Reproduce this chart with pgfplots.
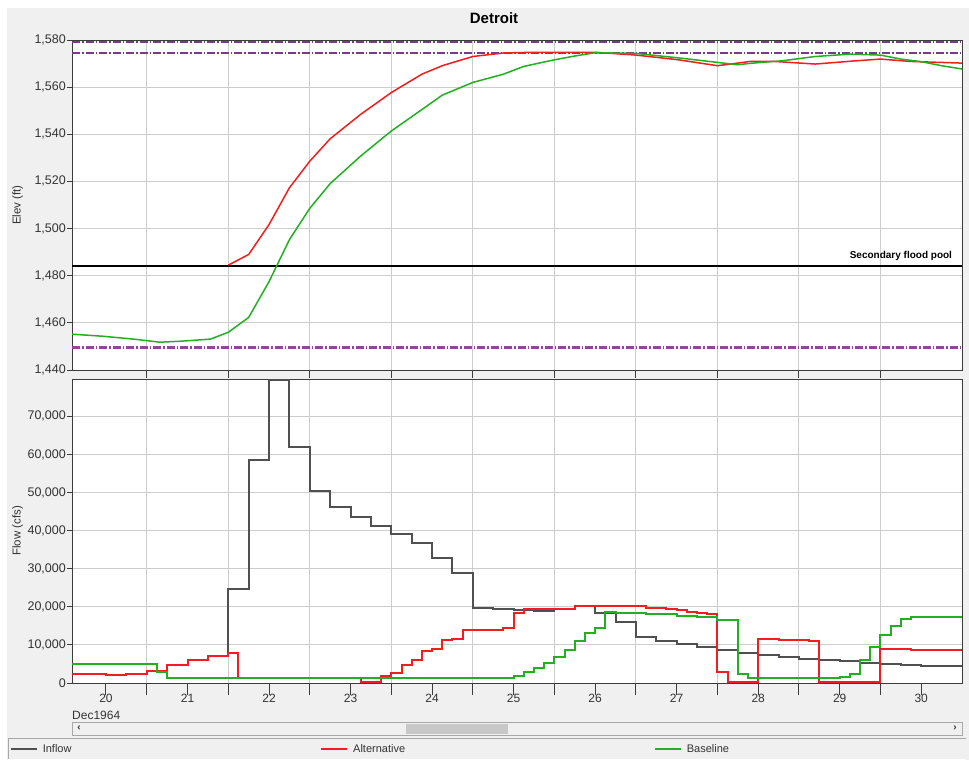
\documentclass[border=0pt]{standalone}
\usepackage{pgfplots}
\pgfplotsset{compat=1.18}
\usepackage{fontspec}
\setmainfont{Liberation Sans}
\definecolor{bg}{HTML}{F0F0F0}
\definecolor{gridc}{HTML}{CDCDCD}
\definecolor{axc}{HTML}{3C3C3C}
\definecolor{tickc}{HTML}{333333}
\definecolor{purp}{HTML}{7A3A8A}
\definecolor{purpl}{HTML}{8E4896}
\definecolor{altc}{HTML}{F01E1E}
\definecolor{basec}{HTML}{20B020}
\definecolor{inflc}{HTML}{505050}
\definecolor{sbar}{HTML}{A8A8A8}
\definecolor{thumb}{HTML}{C8C8C8}
\pgfplotsset{
  common/.style={
    scale only axis, width=890pt,
    xmin=20.083, xmax=31,
    axis background/.style={fill=white},
    axis line style={axc, line width=1pt},
    grid=major, grid style={gridc, line width=1pt},
    tick align=outside, major tick length=5pt,
    tick style={axc, line width=1pt},
    xtick pos=lower, ytick pos=left,
    xtick={21,...,30}, xticklabels={{},{},{},{},{},{},{},{},{},{}},
    yticklabel style={font=\fontsize{12.5}{14}\selectfont, text=tickc, inner sep=1pt},
    /pgf/number format/assume math mode=true,
    /pgf/number format/1000 sep={,},
    ylabel style={font=\fontsize{11.5}{13}\selectfont, text=tickc, at={(axis description cs:-0.061,0.5)}, anchor=center},
  }
}
\begin{document}
\begin{tikzpicture}
\begin{scope}[x=1pt,y=-1pt]
\fill[white] (0,0) rectangle (969,760);
\fill[bg] (7,8) rectangle (969,760);
\node[font=\fontsize{15}{17}\selectfont\bfseries] at (494,18) {Detroit};
\end{scope}

% ---------- Elevation panel ----------
\begin{axis}[common,
  at={(72pt,-370pt)}, anchor=south west, height=330pt,
  ymin=1440, ymax=1580, ytick={1440,1460,...,1580},
  xtick style={/pgfplots/major tick length=8pt},
  ylabel={Elev (ft)},
]
\addplot[purp, line width=2pt, dash pattern=on 8pt off 2pt on 1.5pt off 2pt] coordinates {(20.083,1579.1) (31,1579.1)};
\addplot[purp, line width=2pt, dash pattern=on 8pt off 2pt on 1.5pt off 2pt] coordinates {(20.083,1574.3) (31,1574.3)};
\addplot[purpl, line width=3.2pt, dash pattern=on 8pt off 2pt on 1.5pt off 2pt] coordinates {(20.083,1449.5) (31,1449.5)};
\addplot[black, line width=2pt] coordinates {(20.083,1484.3) (31,1484.3)}
  node[pos=1, anchor=base east, xshift=-9pt, yshift=7pt, font=\fontsize{10}{12}\selectfont\bfseries, inner sep=0pt] {Secondary flood pool};
% Alternative elevation
\addplot[altc, line width=1.5pt] coordinates {
(22.0,1484.5) (22.25,1489) (22.5,1501.7) (22.75,1517.3) (23.0,1528.6) (23.25,1538.1)
(23.625,1548.5) (24.0,1557.7) (24.375,1565.5) (24.625,1569.1) (25.0,1573) (25.375,1574.5)
(25.75,1574.8) (26.5,1574.8) (27.0,1573.6) (27.5,1571.7) (28.0,1569.1) (28.16,1569.8)
(28.4,1570.9) (28.7,1570.9) (29.2,1569.8) (29.67,1571.1) (30.0,1571.9) (30.375,1570.9) (31.0,1570.2)};
% Baseline elevation
\addplot[basec, line width=1.5pt] coordinates {
(20.083,1455.2) (20.47,1454.3) (20.84,1453.1) (21.16,1451.8) (21.41,1452.2) (21.78,1453.1)
(22.0,1456.0) (22.25,1462.3) (22.5,1477.5) (22.75,1495.3) (23.0,1508.6) (23.25,1519.1)
(23.625,1530.8) (24.0,1541.4) (24.375,1550.5) (24.625,1556.6) (25.0,1562) (25.375,1565.5)
(25.625,1568.8) (26.0,1571.6) (26.25,1573.2) (26.5,1574.6) (27.0,1574.3) (27.5,1572.5)
(27.875,1571) (28.25,1569.5) (28.4,1570.1) (28.8,1571.2) (29.2,1573) (29.625,1574)
(30.0,1573.6) (30.25,1571.9) (30.5,1570.8) (30.75,1569.1) (31.0,1567.7)};
\end{axis}

% ---------- Flow panel ----------
\begin{axis}[common,
  at={(72pt,-683pt)}, anchor=south west, height=304pt,
  ymin=0, ymax=79800, ytick={0,10000,...,70000},
  clip=false,
  scaled y ticks=false, yticklabel style={/pgf/number format/fixed},
  xtick style={/pgfplots/major tick length=12pt},
  extra x ticks={20.5,21.5,...,30.5},
  extra x tick labels={20,21,22,23,24,25,26,27,28,29,30},
  extra x tick style={grid=none, major tick length=0pt,
     xticklabel style={font=\fontsize{12}{14}\selectfont, text=tickc, yshift=-8pt}},
  ylabel={Flow (cfs)},
  legend columns=3,
  legend cell align=left,
  legend style={draw=none, fill=none, at={(axis description cs:-0.0697,-0.2171)}, anchor=west,
     font=\fontsize{11}{13}\selectfont, text=tickc, inner sep=0pt,
     /tikz/every even column/.append style={column sep=247pt}},
  legend image code/.code={\draw[#1, line width=1.3pt] (0pt,0pt) -- (26pt,0pt); \path (29pt,0pt);},
]
% Inflow
\addplot[inflc, line width=2pt, const plot] coordinates {
(22.0,7950) (22.0,24700) (22.25,58650) (22.5,79600) (22.75,61950) (23.0,50400) (23.25,46200)
(23.5,43600) (23.75,41200) (24.0,39000) (24.25,36800) (24.5,32900) (24.75,28800)
(25.0,19600) (25.25,19300) (25.5,19100) (25.75,18950) (26.0,19300) (26.25,20100)
(26.5,18500) (26.75,15900) (27.0,12060) (27.25,11010) (27.5,10140) (27.75,9520)
(28.0,8650) (28.25,7870) (28.5,7340) (28.75,6900) (29.0,6290) (29.25,6030)
(29.5,5690) (29.75,5320) (30.0,4980) (30.25,4720) (30.5,4460) (30.75,4370) (31.0,4370)};
\addlegendentry{Inflow}
% Alternative outflow
\addplot[altc, line width=2pt, const plot] coordinates {
(20.083,2280) (20.5,2100) (20.75,2280) (21.0,3230) (21.25,4640) (21.5,6120) (21.75,7160)
(22.0,7950) (22.125,1230) (23.625,340) (23.875,1750) (24.0,2700) (24.125,4720) (24.25,5950)
(24.375,8470) (24.5,8830) (24.625,11190) (24.75,11540) (24.875,13900) (25.375,14340)
(25.5,18430) (25.625,19320) (26.25,20190) (27.125,19750) (27.375,19320) (27.5,19140)
(27.625,18700) (27.75,18430) (27.875,18090) (28.0,2970) (28.125,150) (28.5,11540)
(28.75,11270) (29.125,11100) (29.25,150) (29.875,300) (30.0,8830) (30.375,8650) (31.0,8650)};
\addlegendentry{Alternative}
% Baseline outflow
\addplot[basec, line width=2pt, const plot] coordinates {
(20.083,5070) (21.125,2970) (21.25,1230) (25.5,1840) (25.625,2970) (25.75,4010)
(25.875,5160) (26.0,6740) (26.125,8650) (26.25,11010) (26.375,13190) (26.5,14500)
(26.625,18540) (26.75,18250) (27.125,18090) (27.5,17700) (27.75,17300) (28.0,16520)
(28.25,2360) (28.375,1230) (29.5,1650) (29.625,2360) (29.75,6030) (29.875,9520)
(30.0,12590) (30.125,14950) (30.25,16700) (30.375,17220) (31.0,17220)};
\addlegendentry{Baseline}
\end{axis}

\begin{scope}[x=1pt,y=-1pt]
\node[anchor=base west, font=\fontsize{12}{14}\selectfont, text=tickc, inner sep=0pt] at (72,719) {Dec1964};
\draw[sbar, fill=bg] (72,722) rectangle (962,735);
\fill[thumb] (406,723.5) rectangle (508,734);
\node[font=\fontsize{10}{12}\selectfont\bfseries, text=tickc, inner sep=0pt] at (79,728.5) {‹};
\node[font=\fontsize{10}{12}\selectfont\bfseries, text=tickc, inner sep=0pt] at (955,728.5) {›};
\draw[sbar] (8,759) -- (8,738) -- (966,738);
\draw[white] (8,759.5) -- (966,759.5);
\end{scope}
\end{tikzpicture}
\end{document}
